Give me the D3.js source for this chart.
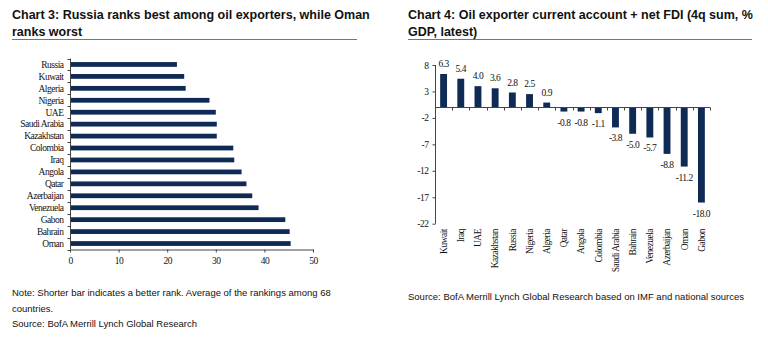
<!DOCTYPE html>
<html>
<head>
<meta charset="utf-8">
<script src="https://cdn.jsdelivr.net/npm/d3@7"></script>
<style>
  body { margin: 0; background: #fff; }
  svg { display: block; }
  .title { font-family: "Liberation Sans", Arial, sans-serif; font-weight: bold; font-size: 12.5px; fill: #111; }
  .note { font-family: "Liberation Sans", Arial, sans-serif; font-size: 9.5px; fill: #111; }
  .tick text, .lbl { font-family: "Liberation Serif", "Times New Roman", serif; font-size: 9.5px; fill: #111; letter-spacing: -0.5px; }
  .domain, .tick line { stroke: #444; }
</style>
</head>
<body>
<svg id="chart" width="768" height="347"></svg>
<script>
// chart 3 data
const rankCountries = ["Russia", "Kuwait", "Algeria", "Nigeria", "UAE", "Saudi Arabia", "Kazakhstan", "Colombia", "Iraq", "Angola", "Qatar", "Azerbaijan", "Venezuela", "Gabon", "Bahrain", "Oman"];
const rankValues = [22.0, 23.5, 23.8, 28.7, 30.0, 30.2, 30.2, 33.6, 33.8, 35.3, 36.3, 37.5, 38.8, 44.3, 45.2, 45.4];
const rankTicks = [0, 10, 20, 30, 40, 50];

// chart 4 data
const caCountries = ["Kuwait", "Iraq", "UAE", "Kazakhstan", "Russia", "Nigeria", "Algeria", "Qatar", "Angola", "Colombia", "Saudi Arabia", "Bahrain", "Venezuela", "Azerbaijan", "Oman", "Gabon"];
const caValues = [6.3, 5.4, 4.0, 3.6, 2.8, 2.5, 0.9, -0.8, -0.8, -1.1, -3.8, -5.0, -5.7, -8.8, -11.2, -18.0];
const caTicks = [8, 3, -2, -7, -12, -17, -22];

const navy = "#0e2a55";
const lineBlue = "#5b78a8";
const svg = d3.select("#chart");

// ---------- headers
function header(x, x2, lines) {
  lines.forEach((t, i) => {
    svg.append("text").attr("class", "title").attr("x", x).attr("y", 19 + i * 17).text(t);
  });
  svg.append("line").attr("x1", x).attr("x2", x2).attr("y1", 39.5).attr("y2", 39.5)
    .attr("stroke", lineBlue).attr("stroke-width", 1);
}
header(12, 357, ["Chart 3: Russia ranks best among oil exporters, while Oman", "ranks worst"]);
header(408, 752, ["Chart 4: Oil exporter current account + net FDI (4q sum, %", "GDP, latest)"]);

// ---------- chart 3 (horizontal bars)
const x3 = d3.scaleLinear().domain([0, 50]).range([70, 313]);
const y3 = d3.scaleBand().domain(rankCountries).range([58.5, 249.5]).paddingInner(0.6).paddingOuter(0.3);

svg.append("g").selectAll("rect").data(rankCountries).join("rect")
  .attr("x", x3(0))
  .attr("y", d => y3(d))
  .attr("width", (d, i) => x3(rankValues[i]) - x3(0))
  .attr("height", y3.bandwidth())
  .attr("fill", navy);

const gx3 = svg.append("g").attr("transform", "translate(0,249.5)")
  .call(d3.axisBottom(x3).tickValues(rankTicks).tickSize(3).tickSizeOuter(0));
gx3.selectAll(".tick text").attr("dy", "0.9em");

// y axis with ticks between categories
const gy3 = svg.append("g").attr("transform", "translate(70.5,0)");
gy3.append("line").attr("class", "domain").attr("y1", 58.5).attr("y2", 249.5).attr("stroke", "#444");
gy3.selectAll("line.tk").data(d3.range(rankCountries.length + 1)).join("line")
  .attr("class", "tk").attr("x1", -3).attr("x2", 0)
  .attr("y1", i => Math.round(58.5 + i * (191 / rankCountries.length)) + 0.5)
  .attr("y2", i => Math.round(58.5 + i * (191 / rankCountries.length)) + 0.5)
  .attr("stroke", "#444");
gy3.selectAll("text").data(rankCountries).join("text")
  .attr("class", "lbl")
  .attr("x", -7)
  .attr("y", d => y3(d) + y3.bandwidth() / 2)
  .attr("dy", "0.35em")
  .attr("text-anchor", "end")
  .text(d => d);

svg.append("text").attr("class", "note").attr("x", 12).attr("y", 296)
  .text("Note: Shorter bar indicates a better rank. Average of the rankings among 68");
svg.append("text").attr("class", "note").attr("x", 12).attr("y", 312).text("countries.");
svg.append("text").attr("class", "note").attr("x", 12).attr("y", 327).text("Source: BofA Merrill Lynch Global Research");

// ---------- chart 4 (vertical bars)
const y4 = d3.scaleLinear().domain([-22, 8]).range([223.7, 65]);
const x4 = d3.scaleBand().domain(caCountries).range([435, 710]).paddingInner(0.6).paddingOuter(0.3);

svg.append("g").selectAll("rect").data(caCountries).join("rect")
  .attr("x", d => x4(d))
  .attr("y", (d, i) => y4(Math.max(0, caValues[i])))
  .attr("width", x4.bandwidth())
  .attr("height", (d, i) => Math.abs(y4(caValues[i]) - y4(0)))
  .attr("fill", navy);

svg.append("g").selectAll("text").data(caCountries).join("text")
  .attr("class", "lbl")
  .attr("x", d => x4(d) + x4.bandwidth() / 2)
  .attr("y", (d, i) => caValues[i] >= 0 ? y4(caValues[i]) - 7 : y4(caValues[i]) + 14)
  .attr("text-anchor", "middle")
  .text((d, i) => caValues[i].toFixed(1));

const gy4 = svg.append("g").attr("transform", "translate(435.5,0)")
  .call(d3.axisLeft(y4).tickValues(caTicks).tickFormat(d => String(d)).tickSize(3).tickSizeOuter(0));
gy4.select(".domain").attr("d", `M0,${y4(8)}V${y4(-22)}`);
gy4.selectAll(".tick text").attr("x", -7);

// zero line with ticks between categories
const zy = Math.round(y4(0)) + 0.5;
svg.append("line").attr("x1", 435).attr("x2", 710).attr("y1", zy).attr("y2", zy).attr("stroke", "#444");
svg.append("g").selectAll("line").data(d3.range(caCountries.length + 1)).join("line")
  .attr("x1", i => Math.round(435 + i * 275 / caCountries.length) + 0.5)
  .attr("x2", i => Math.round(435 + i * 275 / caCountries.length) + 0.5)
  .attr("y1", zy).attr("y2", zy + 3)
  .attr("stroke", "#444");

// rotated category labels
svg.append("g").selectAll("text").data(caCountries).join("text")
  .attr("class", "lbl")
  .attr("transform", d => `translate(${x4(d) + x4.bandwidth() / 2},229) rotate(-90)`)
  .attr("dy", "0.35em")
  .attr("text-anchor", "end")
  .text(d => d);

svg.append("text").attr("class", "note").attr("x", 408).attr("y", 300)
  .text("Source: BofA Merrill Lynch Global Research based on IMF and national sources");
</script>
</body>
</html>
